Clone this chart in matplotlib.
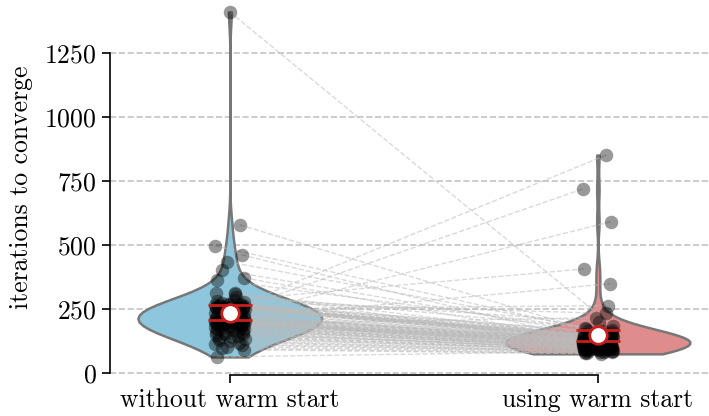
import numpy as np
import matplotlib
matplotlib.use("Agg")
import matplotlib.pyplot as plt

plt.rcParams['font.family'] = 'serif'
plt.rcParams['font.serif'] = ['cmr10']
plt.rcParams['mathtext.fontset'] = 'cm'
plt.rcParams['axes.formatter.use_mathtext'] = True

categories = ["without warm start", "using warm start"]

# paired runs (same index = same problem): iterations without / with warm start
without_ws = [1410, 578, 496, 461, 434, 402, 371, 363, 313, 309, 62,
              90, 96, 102, 108, 113, 118, 123, 128, 132, 136, 140, 144, 147, 150,
              152, 155, 158, 161, 164, 167, 170, 172, 174, 176, 178, 180, 182,
              184, 186, 188, 190, 191, 192, 193, 194, 195, 196, 197, 198,
              199, 200, 201, 202, 203, 204, 205, 206, 208, 210, 212, 214, 216,
              218, 220, 222, 224, 226, 228, 230, 233, 236, 240, 244, 248,
              250, 251, 252, 253, 254, 255, 256, 257, 258, 259, 260, 261, 262,
              263, 264, 265, 266, 268, 270, 272, 275, 280, 285, 295, 312]
using_ws = [182, 150, 172, 130, 165, 140, 120, 176, 110, 135, 84,
            74, 76, 78, 80, 81, 82, 83, 85, 86, 87, 88, 89, 90, 91,
            92, 93, 94, 95, 96, 96, 97, 98, 99, 99, 100, 101, 102,
            103, 104, 105, 215, 106, 107, 108, 109, 111, 112, 113, 114,
            115, 116, 117, 118, 119, 120, 121, 121, 122, 348, 122, 123, 123,
            124, 124, 125, 125, 126, 127, 590, 127, 128, 719, 129, 130,
            262, 131, 132, 133, 134, 136, 137, 138, 139, 141, 142, 143, 144,
            145, 146, 851, 148, 153, 156, 159, 232, 162, 406, 200, 168]

colors = ['#8ec7dd', '#df8c8c']

fig = plt.figure(figsize=(7.09, 4.16), dpi=100)
ax = fig.add_axes([0.155, 0.099, 0.845, 0.901])

data = [np.array(without_ws, float), np.array(using_ws, float)]
parts = ax.violinplot(data, positions=[0, 1], widths=0.5,
                      showextrema=False, showmedians=False)
for body, c in zip(parts['bodies'], colors):
    body.set_facecolor(c)
    body.set_edgecolor('#777777')
    body.set_linewidth(1.8)
    body.set_alpha(1)
    body.set_zorder(1)

# jitter for the points (position only)
n = len(without_ws)
jit = 0.04 * np.sin(np.arange(n) * 2.39996)
jit2 = 0.04 * np.cos(np.arange(n) * 1.61803 * 3.1)
x0 = 0 + jit
x1 = 1 + jit2

for i in range(n):
    ax.plot([x0[i], x1[i]], [without_ws[i], using_ws[i]], ls='--',
            color='#bbbbbb', alpha=0.55, lw=1, zorder=2)

ax.scatter(x0, without_ws, s=95, color='black', alpha=0.4, lw=0, zorder=3)
ax.scatter(x1, using_ws, s=95, color='black', alpha=0.4, lw=0, zorder=3)

# mean with 95% confidence interval
for pos, d in zip([0, 1], data):
    m = d.mean()
    ci = 1.96 * d.std(ddof=1) / np.sqrt(len(d))
    ax.hlines([m - ci, m + ci], pos - 0.06, pos + 0.06, color='#c81e1e',
              lw=2, zorder=4)
    ax.scatter([pos], [m], s=160, facecolor='white', edgecolor='#c81e1e',
               lw=2, zorder=5)

ax.set_xlim(-0.326, 1.302)
ax.set_ylim(-8, 1457)
ax.set_yticks([0, 250, 500, 750, 1000, 1250])
ax.set_xticks([0, 1])
ax.set_xticklabels(categories)
ax.set_ylabel('iterations to converge', fontsize=18.5, labelpad=8)
ax.tick_params(labelsize=18.5, length=6, width=1.2)
ax.yaxis.grid(True, ls='--', color='#c4c4c4', lw=1.2)
ax.set_axisbelow(True)

for s in ['top', 'right']:
    ax.spines[s].set_visible(False)
ax.spines['left'].set_bounds(0, 1250)
ax.spines['bottom'].set_bounds(0, 1)
ax.spines['left'].set_linewidth(1.2)
ax.spines['bottom'].set_linewidth(1.2)

fig.savefig('out.png', dpi=100)
